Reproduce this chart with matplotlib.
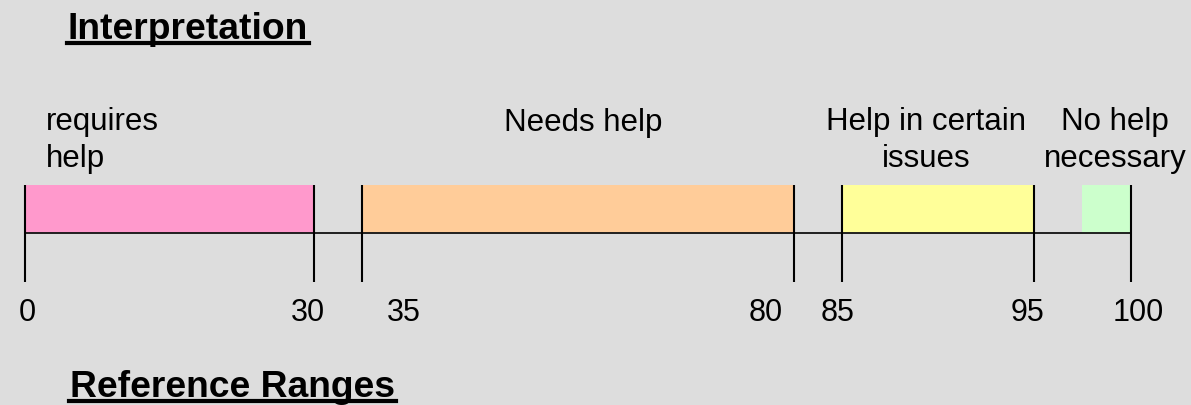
import numpy as np
import matplotlib
matplotlib.use("Agg")
import matplotlib.pyplot as plt
import matplotlib.transforms as mtransforms

plt.rcParams['font.family'] = ['Liberation Sans', 'DejaVu Sans']

# data
categories = ["requires\nhelp", "Needs help", "Help in certain\nissues", "No help\nnecessary"]
range_lo = [0, 35, 85, 97.5]
range_hi = [30, 80, 95, 100]
bar_colors = ["#ff99cc", "#ffcc99", "#ffff99", "#ccffcc"]
tick_values = [0, 30, 35, 80, 85, 95, 100]
tick_labels = ["0", "30", "35", "80", "85", "95", "100"]

# layout nudges (pixels)
tick_label_dx = [2, -5.5, 42, -29, -5, -7, 7.5]
cat_label_dx = [20, 5, -12, 8.5]
cat_label_ha = ["left", "center", "center", "center"]

W, H = 1191, 406
bg = "#dddddd"


def fwd(x):
    x = np.asarray(x, dtype=float)
    return np.where(x <= 85, x, 85 + 2 * (x - 85))


def inv(u):
    u = np.asarray(u, dtype=float)
    return np.where(u <= 85, u, 85 + (u - 85) / 2)


fig = plt.figure(figsize=(W / 100, H / 100), dpi=100, facecolor=bg)
ax = fig.add_axes([0, 0, 1, 1])
ax.set_facecolor(bg)
ax.set_xscale('function', functions=(fwd, inv))
px_per_u = 9.609
ax.set_xlim(-25.5 / px_per_u, float(inv((W - 25.5) / px_per_u)))
ax.set_ylim(H, 0)
ax.axis('off')

bar_top, bar_bot = 186, 234
lo = np.array(range_lo)
hi = np.array(range_hi)
ax.barh((bar_top + bar_bot) / 2, hi - lo, left=lo, height=bar_bot - bar_top,
        color=bar_colors, edgecolor='none', zorder=1)

# baseline axis and tick lines
ax.hlines(bar_bot, tick_values[0], tick_values[-1], color='#111111', lw=1.3, zorder=2)
ax.vlines(tick_values, bar_top, 283, color='black', lw=1.5, zorder=3)

for v, lab, dx in zip(tick_values, tick_labels, tick_label_dx):
    tr = mtransforms.offset_copy(ax.transData, fig=fig, x=dx, y=0, units='dots')
    ax.text(v, 321, lab, transform=tr, ha='center', va='baseline', fontsize=22)

line_gap = 36
for i, name in enumerate(categories):
    if cat_label_ha[i] == "left":
        xpos = range_lo[i]
    else:
        xpos = float(inv((fwd(range_lo[i]) + fwd(range_hi[i])) / 2))
    tr = mtransforms.offset_copy(ax.transData, fig=fig, x=cat_label_dx[i], y=0, units='dots')
    ybase = 131 + line_gap * name.count("\n")
    ax.text(xpos, ybase, name, transform=tr, ha=cat_label_ha[i], va='baseline',
            multialignment=cat_label_ha[i], fontsize=22.5, linespacing=1.29)

# underlined headings
fig.canvas.draw()
renderer = fig.canvas.get_renderer()
for txt, x0, base in [("Interpretation", 68, 39), ("Reference Ranges", 70, 397)]:
    t = fig.text(x0 / W, 1 - base / H, txt, fontsize=26.8, fontweight='bold',
                 ha='left', va='baseline')
    bb = t.get_window_extent(renderer)
    yl = 1 - (base + 5) / H
    fig.add_artist(plt.Line2D([bb.x0 / W - 0.001, bb.x1 / W + 0.001], [yl, yl],
                              transform=fig.transFigure, color='black', lw=3))

fig.savefig("out.png", dpi=100, facecolor=bg)
